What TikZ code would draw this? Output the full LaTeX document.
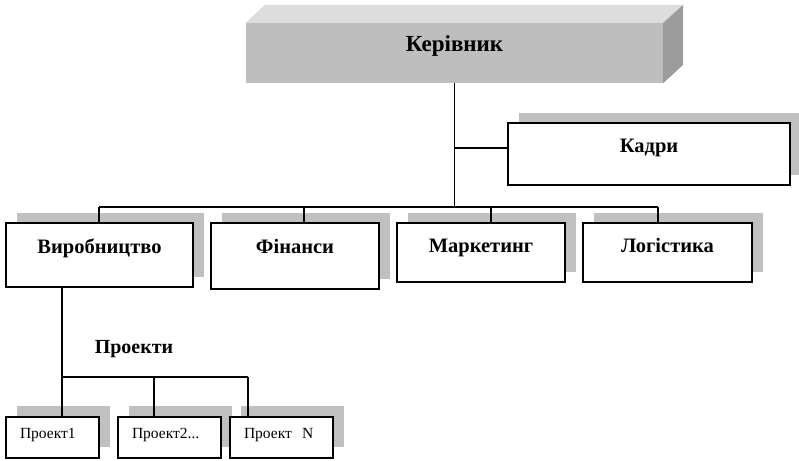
\documentclass[tikz,border=0pt]{standalone}
\usepackage{fontspec}
\setmainfont{Liberation Serif}
\usetikzlibrary{shadows}
\definecolor{shadowgray}{HTML}{C0C0C0}
\definecolor{topface}{HTML}{DDDDDD}
\definecolor{frontface}{HTML}{BEBEBE}
\definecolor{sideface}{HTML}{9C9C9C}
\tikzset{
  conn/.style={line width=1.2pt, black},
  unitbox/.style={draw, line width=1.2pt, fill=white, inner sep=0pt,
    font=\fontsize{20.5}{22}\selectfont\bfseries,
    general shadow={shadow xshift=11pt, shadow yshift=10pt, fill=shadowgray, draw=none}},
  projbox/.style={draw, line width=1.2pt, fill=white, inner ysep=0pt, inner xsep=14pt,
    align=left, font=\fontsize{15.5}{17}\selectfont,
    minimum height=41pt, text height=21pt, text depth=20pt,
    general shadow={shadow xshift=11pt, shadow yshift=11pt, fill=shadowgray, draw=none}},
}
\begin{document}
\begin{tikzpicture}[x=1pt,y=-1pt]
\useasboundingbox (0,0) rectangle (799,460);
% top 3D box
\node[fill=frontface, inner sep=0pt, minimum width=417pt, minimum height=60pt,
  text height=29pt, text depth=31pt, font=\fontsize{23}{26}\selectfont\bfseries]
  (boss) at (454.5,53) {Керівник};
\fill[topface] (boss.north west) -- ++(19,-18) -- ++(418,0) -- (boss.north east) -- cycle;
\fill[sideface] (boss.north east) -- ++(20,-18) -- ++(0,60) -- (boss.south east) -- cycle;

% departments
\node[unitbox, minimum width=282pt, minimum height=62pt, text height=29pt, text depth=33pt]
  (kadry) at (649,154) {Кадри};
\node[unitbox, minimum width=187pt, minimum height=64pt, text height=30pt, text depth=34pt]
  (vyr) at (99.5,255) {Виробництво};
\node[unitbox, minimum width=168pt, minimum height=66pt, text height=30pt, text depth=36pt]
  (fin) at (295,256) {Фінанси};
\node[unitbox, minimum width=168pt, minimum height=59pt, text height=29pt, text depth=30pt]
  (mark) at (481,252.5) {Маркетинг};
\node[unitbox, minimum width=169pt, minimum height=59pt, text height=29pt, text depth=30pt]
  (log) at (667.5,252.5) {Логістика};

% projects
\node[font=\fontsize{20}{22}\selectfont\bfseries] (proj) at (134,349) {Проекти};
\node[projbox, text width=65pt] (p1) at (52.5,437.5) {Проект1};
\node[projbox, text width=75pt] (p2) at (169.5,437.5) {Проект2...};
\node[projbox, text width=75pt] (pn) at (281.5,437.5) {Проект\ \ N};

% connectors
\coordinate (bus) at (454.5,207);
\coordinate (kj) at (454.5,148);
\coordinate (tv) at (99,207);
\coordinate (tf) at (304,207);
\coordinate (tm) at (491,207);
\coordinate (tl) at (658,207);
\draw[conn] (boss.south) -- (bus);
\draw[conn] (kj) -- (kj -| kadry.west);
\draw[conn] (tv) -- (tl);
\draw[conn] (tv) -- (tv |- vyr.north);
\draw[conn] (tf) -- (tf |- fin.north);
\draw[conn] (tm) -- (tm |- mark.north);
\draw[conn] (tl) -- (tl |- log.north);

\coordinate (pb) at (62,377);
\coordinate (pb2) at (154,377);
\coordinate (pb3) at (248,377);
\draw[conn] (pb |- vyr.south) -- (pb) -- (pb3);
\draw[conn] (pb) -- (pb |- p1.north);
\draw[conn] (pb2) -- (pb2 |- p2.north);
\draw[conn] (pb3) -- (pb3 |- pn.north);
\end{tikzpicture}
\end{document}
